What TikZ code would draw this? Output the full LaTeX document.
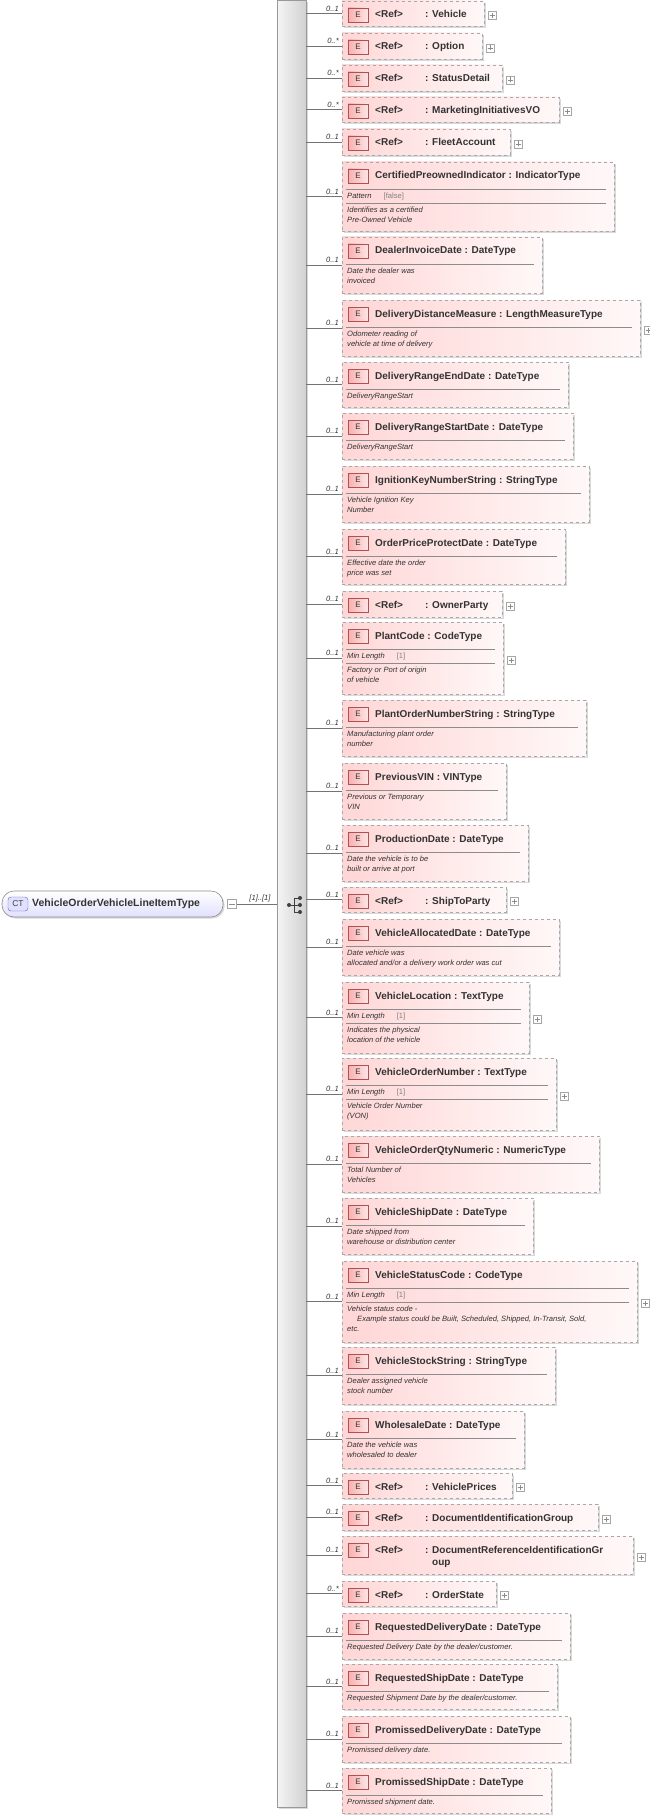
\documentclass[tikz,border=0pt]{standalone}
\usepackage{fontspec}
\setmainfont{Liberation Sans}
\usetikzlibrary{fit,shadows}
\definecolor{txt}{HTML}{333333}
\definecolor{edge}{HTML}{A8A8A8}
\definecolor{pinkL}{HTML}{FFD6D6}
\definecolor{pinkR}{HTML}{FFF8F8}
\definecolor{ebL}{HTML}{F8B0B0}
\definecolor{ebR}{HTML}{FFE4E4}
\definecolor{ebB}{HTML}{B05050}
\tikzset{
  elem/.style={draw=edge,dashed,line width=0.7pt,left color=pinkL,right color=pinkR,inner sep=0pt,
    drop shadow={shadow xshift=2pt,shadow yshift=-2pt,fill=black!25,opacity=0.6}},
  ebadge/.style={draw=ebB,line width=0.6pt,left color=ebL,right color=ebR,minimum width=20pt,minimum height=14pt,inner sep=0pt,font=\fontsize{8}{8}\selectfont,text=black!80},
  title/.style={anchor=base west,inner sep=0pt,font=\fontsize{10}{12}\selectfont\bfseries,text=txt},
  desc/.style={anchor=north west,inner sep=0pt,align=left,font=\fontsize{7.6}{10}\selectfont\itshape,text=txt},
  mult/.style={anchor=south east,inner sep=1pt,font=\fontsize{7.6}{8}\selectfont\itshape,text=txt},
  conn/.style={draw=black!55,line width=0.6pt},
  sep/.style={draw=black!45,line width=0.6pt},
  plusbox/.style={draw=black!35,fill=white,minimum size=8pt,inner sep=0pt,line width=0.5pt,
    path picture={\draw[black!45,line width=0.5pt] ([xshift=1.5pt]path picture bounding box.west) -- ([xshift=-1.5pt]path picture bounding box.east)
      ([yshift=1.5pt]path picture bounding box.south) -- ([yshift=-1.5pt]path picture bounding box.north);}}
}
% #1 name #2 top #3 bottom #4 right #5 mult #6 title #7 facet #8 desc #9 plus
\newcommand{\elbox}[9]{%
  \node[elem,fit={(342,#2) (#4,#3)}] (#1) {};
  \draw[conn] (spine.east |- #1.west) -- (#1.west);
  \node[mult] at (340,{(#2+#3)/2-1}) {#5};
  \node[ebadge] at (358,{#2+14}) {E};
  \node[title] at (375,{#2+17}) {#6};
  \ifx\relax#8\relax\else
    \draw[sep] (346,{#2+27}) -- ({#4-8},{#2+27});
    \ifx\relax#7\relax
      \node[desc] at (347,{#2+31}) {#8};
    \else
      \node[desc] at (347,{#2+31}) {#7};
      \draw[sep] (346,{#2+41}) -- ({#4-8},{#2+41});
      \node[desc] at (347,{#2+45}) {#8};
    \fi
  \fi
  \ifnum#9=1 \node[plusbox] at ({#4+8},{(#2+#3)/2+2}) {};\fi
}
\newcommand{\reft}[1]{\makebox[50pt][l]{<Ref>}: #1}
\newcommand{\typt}[2]{#1 : #2}
\newcommand{\facet}[2]{#1\hspace{12pt}{\upshape\color{black!50}#2}}
\begin{document}
\begin{tikzpicture}[x=1pt,y=-1pt]
\useasboundingbox (0,0) rectangle (650,1819);
\node[draw=black!40,line width=0.6pt,left color=black!4,right color=black!18,inner sep=0pt,fit={(277,0) (306,1807)},
  drop shadow={shadow xshift=2pt,shadow yshift=-2pt,fill=black!25,opacity=0.6}] (spine) {};
% CT node
\node[draw=black!45,line width=0.6pt,rounded corners=12pt,top color=white,bottom color=blue!12,inner sep=0pt,fit={(2,891) (223,917)},
  drop shadow={shadow xshift=1.5pt,shadow yshift=-1.5pt,fill=black!25,opacity=0.6}] (ct) {};
\node[draw=blue!45!black!60,rounded corners=3pt,fill=blue!12,minimum width=20pt,minimum height=14pt,inner sep=0pt,font=\fontsize{8.5}{9}\selectfont,text=black!75] (ctb) at (18,904) {CT};
\node[anchor=west,inner sep=0pt,font=\fontsize{10.5}{12}\selectfont\bfseries,text=txt] (ctt) at (32,904) {VehicleOrderVehicleLineItemType};
\node[draw=black!35,fill=white,minimum size=9pt,inner sep=0pt,line width=0.5pt,
  path picture={\draw[black!45] ([xshift=1.5pt]path picture bounding box.west) -- ([xshift=-1.5pt]path picture bounding box.east);}] (minus) at (232,904) {};
\draw[conn] (minus.east) -- (spine.west |- minus.east);
\node[mult,anchor=south] at (260,903) {[1]..[1]};
% sequence icon
\fill[black!75] (289,905) circle (2pt);
\draw[black!75,line width=0.8pt] (289,905) -- (294,905) (294,898) -- (294,912) (294,898) -- (299,898) (294,905) -- (299,905) (294,912) -- (299,912);
\fill[black!75] (300,898) circle (2pt) (300,905) circle (2pt) (300,912) circle (2pt);
%
\elbox{b1}{1}{26}{484}{0..1}{\reft{Vehicle}}{}{}{1}
\elbox{b2}{33}{59}{482}{0..*}{\reft{Option}}{}{}{1}
\elbox{b3}{65}{91}{502}{0..*}{\reft{StatusDetail}}{}{}{1}
\elbox{b4}{97}{122}{559}{0..*}{\reft{MarketingInitiativesVO}}{}{}{1}
\elbox{b5}{129}{155}{510}{0..1}{\reft{FleetAccount}}{}{}{1}
\elbox{b6}{162}{231}{614}{0..1}{\typt{CertifiedPreownedIndicator}{IndicatorType}}{\facet{Pattern}{[false]}}{Identifies as a certified\\Pre-Owned Vehicle}{0}
\elbox{b7}{237}{293}{542}{0..1}{\typt{DealerInvoiceDate}{DateType}}{}{Date the dealer was\\invoiced}{0}
\elbox{b8}{300}{356}{640}{0..1}{\typt{DeliveryDistanceMeasure}{LengthMeasureType}}{}{Odometer reading of\\vehicle at time of delivery}{1}
\elbox{b9}{362}{407}{568}{0..1}{\typt{DeliveryRangeEndDate}{DateType}}{}{DeliveryRangeStart}{0}
\elbox{b10}{413}{459}{573}{0..1}{\typt{DeliveryRangeStartDate}{DateType}}{}{DeliveryRangeStart}{0}
\elbox{b11}{466}{522}{589}{0..1}{\typt{IgnitionKeyNumberString}{StringType}}{}{Vehicle Ignition Key\\Number}{0}
\elbox{b12}{529}{584}{565}{0..1}{\typt{OrderPriceProtectDate}{DateType}}{}{Effective date the order\\price was set}{0}
\elbox{b13}{591}{617}{502}{0..1}{\reft{OwnerParty}}{}{}{1}
\elbox{b14}{622}{694}{503}{0..1}{\typt{PlantCode}{CodeType}}{\facet{Min Length}{[1]}}{Factory or Port of origin\\of vehicle}{1}
\elbox{b15}{700}{756}{586}{0..1}{\typt{PlantOrderNumberString}{StringType}}{}{Manufacturing plant order\\number}{0}
\elbox{b16}{763}{819}{506}{0..1}{\typt{PreviousVIN}{VINType}}{}{Previous or Temporary\\VIN}{0}
\elbox{b17}{825}{881}{528}{0..1}{\typt{ProductionDate}{DateType}}{}{Date the vehicle is to be\\built or arrive at port}{0}
\elbox{b18}{887}{912}{506}{0..1}{\reft{ShipToParty}}{}{}{1}
\elbox{b19}{919}{975}{559}{0..1}{\typt{VehicleAllocatedDate}{DateType}}{}{Date vehicle was\\allocated and/or a delivery work order was cut}{0}
\elbox{b20}{982}{1053}{529}{0..1}{\typt{VehicleLocation}{TextType}}{\facet{Min Length}{[1]}}{Indicates the physical\\location of the vehicle}{1}
\elbox{b21}{1058}{1130}{556}{0..1}{\typt{VehicleOrderNumber}{TextType}}{\facet{Min Length}{[1]}}{Vehicle Order Number\\(VON)}{1}
\elbox{b22}{1136}{1192}{599}{0..1}{\typt{VehicleOrderQtyNumeric}{NumericType}}{}{Total Number of\\Vehicles}{0}
\elbox{b23}{1198}{1254}{533}{0..1}{\typt{VehicleShipDate}{DateType}}{}{Date shipped from\\warehouse or distribution center}{0}
\elbox{b24}{1261}{1342}{637}{0..1}{\typt{VehicleStatusCode}{CodeType}}{\facet{Min Length}{[1]}}{Vehicle status code -\\\hspace*{10pt}Example status could be Built, Scheduled, Shipped, In-Transit, Sold,\\etc.}{1}
\elbox{b25}{1347}{1404}{555}{0..1}{\typt{VehicleStockString}{StringType}}{}{Dealer assigned vehicle\\stock number}{0}
\elbox{b26}{1411}{1468}{524}{0..1}{\typt{WholesaleDate}{DateType}}{}{Date the vehicle was\\wholesaled to dealer}{0}
\elbox{b27}{1473}{1498}{512}{0..1}{\reft{VehiclePrices}}{}{}{1}
\elbox{b28}{1504}{1530}{598}{0..1}{\reft{DocumentIdentificationGroup}}{}{}{1}
\elbox{b29}{1536}{1574}{633}{0..1}{\makebox[50pt][l]{<Ref>}\begin{tabular}[t]{@{}l@{}}: DocumentReferenceIdentificationGr\\\hspace*{7pt}oup\end{tabular}}{}{}{1}
\elbox{b30}{1581}{1606}{496}{0..*}{\reft{OrderState}}{}{}{1}
\elbox{b31}{1613}{1659}{570}{0..1}{\typt{RequestedDeliveryDate}{DateType}}{}{Requested Delivery Date by the dealer/customer.}{0}
\elbox{b32}{1664}{1709}{557}{0..1}{\typt{RequestedShipDate}{DateType}}{}{Requested Shipment Date by the dealer/customer.}{0}
\elbox{b33}{1716}{1762}{570}{0..1}{\typt{PromissedDeliveryDate}{DateType}}{}{Promissed delivery date.}{0}
\elbox{b34}{1768}{1813}{551}{0..1}{\typt{PromissedShipDate}{DateType}}{}{Promissed shipment date.}{0}
\end{tikzpicture}
\end{document}
